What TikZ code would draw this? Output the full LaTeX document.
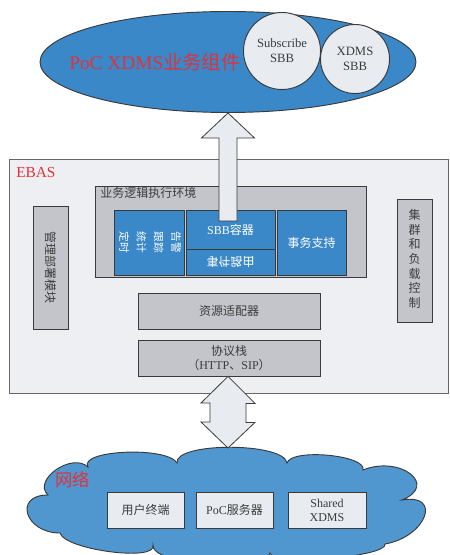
\documentclass[tikz,border=0pt]{standalone}
\usepackage{fontspec}
\setmainfont{Liberation Serif}
\newfontfamily\cjk{Noto Sans CJK SC}
\usetikzlibrary{shapes.geometric}
\definecolor{LineGray}{RGB}{58,58,58}
\definecolor{BoxGray}{RGB}{195,197,203}
\definecolor{EbasFill}{RGB}{237,239,242}
\definecolor{BoxBlue}{RGB}{58,136,200}
\definecolor{PaleBox}{RGB}{232,236,241}
\definecolor{CloudBlue}{RGB}{80,151,207}
\definecolor{LabelRed}{RGB}{224,50,58}
\definecolor{TextGray}{RGB}{60,60,60}
\newcommand{\zh}[1]{{\cjk #1}}

\begin{document}
\begin{tikzpicture}[x=0.75pt,y=-0.75pt,
    sz/.style 2 args={minimum width=#1*0.75pt,minimum height=#2*0.75pt},
    box/.style={draw=LineGray,line width=0.6pt,inner sep=0pt,align=center,font=\fontsize{9}{10.5}\selectfont},
    grybox/.style={box,fill=BoxGray,text=TextGray},
    blubox/.style={box,fill=BoxBlue,text=white},
    litebox/.style={box,fill=PaleBox,text=TextGray},
    bubble/.style={circle,draw=LineGray,line width=0.7pt,fill=PaleBox,inner sep=0pt,align=center,
                   font=\fontsize{9.5}{11}\selectfont,text=TextGray},
    redlabel/.style={text=LabelRed,inner sep=0pt,anchor=west},
    blockarrow/.style={draw=LineGray,line width=0.6pt,fill=PaleBox}]
  \useasboundingbox (0,0) rectangle (449,555);
  \clip (0,0) rectangle (449,555);

  % top component
  \node[ellipse,draw=LineGray,line width=0.7pt,fill=BoxBlue,sz={376}{101}] (ell) at (228,62) {};
  \node[redlabel,font=\fontsize{14.5}{16}\selectfont] (poc) at (69,62) {PoC XDMS\zh{业务组件}};
  \node[bubble,minimum size=77*0.75pt] (subs) at (282,51) {Subscribe\\SBB};
  \node[bubble,minimum size=69*0.75pt] (xdms) at (355,59) {XDMS\\SBB};

  % EBAS frame
  \node[draw=gray!80!black,line width=0.6pt,fill=EbasFill,sz={439}{234}] (ebas) at (228.5,276) {};
  \node[redlabel,font=\fontsize{11.5}{13}\selectfont] (ebaslbl) at (16,173) {EBAS};
  \node[grybox,sz={271}{91}] (env) at (230.5,231.5) {};
  \node[text=TextGray,inner sep=0pt,anchor=west,font=\fontsize{9}{10}\selectfont] (envlbl) at (100,193) {\zh{业务逻辑执行环境}};
  \node[blubox,sz={69}{65}] (alarm) at (149.5,242.5)
    {\rotatebox{-90}{\fontsize{8}{13}\selectfont\cjk\begin{tabular}{@{}c@{}}告警\\跟踪\\统计\\定时\end{tabular}}};
  \node[blubox,sz={89}{39}] (sbbc) at (230.5,229.5) {SBB\zh{容器}};
  \node[blubox,sz={89}{26}] (route) at (230.5,262) {\scalebox{1}[-1]{\zh{事件路由}}};
  \node[blubox,sz={69}{65}] (txn) at (311.5,242.5) {\zh{事务支持}};
  \node[grybox,sz={35}{123}] (mgmt) at (50.5,267.5) {\rotatebox{-90}{\zh{管理部署模块}}};
  \node[grybox,sz={35}{123},font=\fontsize{9}{11}\selectfont\cjk] (clus) at (414.5,260.5)
    {\raisebox{7pt}{\begin{tabular}{@{}c@{}}集\\群\\和\\负\\载\\控\\制\end{tabular}}};
  \node[grybox,sz={182}{36}] (res) at (229,311) {\zh{资源适配器}};
  \node[grybox,sz={182}{36}] (proto) at (229,358) {\zh{协议栈}\\\zh{（}HTTP\zh{、}SIP\zh{）}};

  % arrow up into the component
  \draw[blockarrow] (ell.south) -- ++(26.5,25) -- ++(-17.5,0) -- ++(0,83) -- ++(-18,0)
    -- ++(0,-83) -- ++(-17.5,0) -- cycle;

  % network cloud
  \draw[draw=LineGray,line width=0.7pt,fill=CloudBlue]
    (48,495) .. controls (32,480) and (72,452) .. (88,467)
    .. controls (78,450) and (167,446) .. (177,463)
    .. controls (174,442) and (284,442) .. (287,463)
    .. controls (291,448) and (367,455) .. (363,470)
    .. controls (400,455) and (439,485) .. (402,500)
    .. controls (443,493) and (426,537) .. (385,544)
    .. controls (388,557) and (273,566) .. (270,553)
    .. controls (268,574) and (151,566) .. (153,545)
    .. controls (158,562) and (65,550) .. (60,533)
    .. controls (25,533) and (13,495) .. cycle;
  \coordinate (nettop) at (228,448);
  \node[redlabel,font=\fontsize{13}{15}\selectfont] (netlbl) at (55,480) {\zh{网络}};
  \node[litebox,sz={77}{36}] (user) at (145.5,510) {\zh{用户终端}};
  \node[litebox,sz={77}{36}] (pocs) at (234.5,510) {PoC\zh{服务器}};
  \node[litebox,sz={78}{36}] (shxd) at (327,510) {Shared\\XDMS};

  % two-way arrow between stack and network
  \draw[blockarrow] (proto.south -| nettop) -- ++(27,27) -- ++(-9,0) -- ++(0,19) -- ++(9,0)
    -- (nettop) -- ++(-27,-26) -- ++(9,0) -- ++(0,-19) -- ++(-9,0) -- cycle;
\end{tikzpicture}
\end{document}
